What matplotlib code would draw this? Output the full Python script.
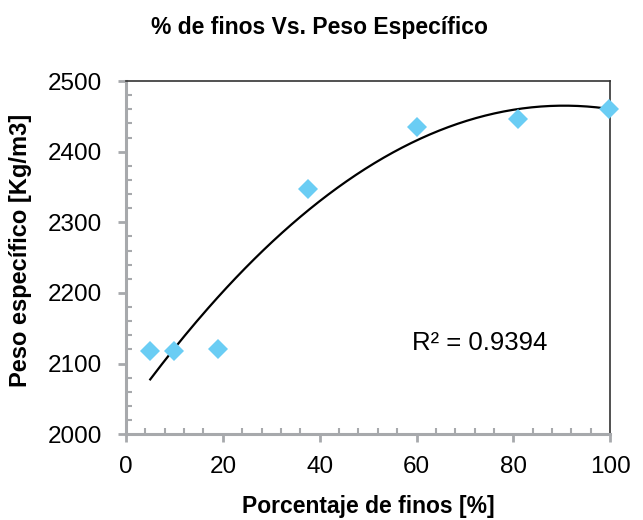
import numpy as np
import matplotlib.pyplot as plt

plt.rcParams['font.family'] = ['Liberation Sans', 'DejaVu Sans']

finos = [5, 10, 19, 37.5, 60, 81, 99.7]
peso = [2118, 2118, 2121, 2347, 2435, 2447, 2461]

coef = np.polyfit(finos, peso, 2)
xs = np.linspace(5, 100, 200)
ys = np.polyval(coef, xs)

fig = plt.figure(figsize=(6.43, 5.2), dpi=100)
ax = fig.add_axes([0.196, 0.165, 0.753, 0.679])

ax.plot(xs, ys, color='black', lw=1.6, zorder=2)
ax.plot(finos, peso, 'D', color='#6ACDF4', markersize=10, markeredgewidth=0, zorder=3, clip_on=False)

ax.set_xlim(0, 100)
ax.set_ylim(2000, 2500)
ax.set_xticks([0, 20, 40, 60, 80, 100])
ax.set_yticks([2000, 2100, 2200, 2300, 2400, 2500])
ax.set_xticks(np.arange(0, 101, 4), minor=True)
ax.set_yticks(np.arange(2000, 2501, 20), minor=True)

for s in ['left', 'bottom']:
    ax.spines[s].set_color('#A7A9AC')
    ax.spines[s].set_linewidth(2.2)
for s in ['top', 'right']:
    ax.spines[s].set_color('#333333')
    ax.spines[s].set_linewidth(1.2)

ax.tick_params(which='major', direction='out', length=6, width=2, color='#A7A9AC', labelsize=17.5)
ax.tick_params(axis='y', which='major', pad=11)
ax.tick_params(axis='x', which='major', pad=10)
ax.tick_params(which='minor', direction='in', length=4, width=1.5, color='#A7A9AC')
ax.tick_params(top=False, right=False, which='both')

ax.set_xlabel('Porcentaje de finos [%]', fontsize=16.5, fontweight='bold')
ax.set_ylabel('Peso específico [Kg/m3]', fontsize=17, fontweight='bold')
ax.xaxis.set_label_coords(0.5, -0.172)
ax.yaxis.set_label_coords(-0.194, 0.52)
fig.text(0.497, 0.948, '% de finos Vs. Peso Específico', ha='center', va='center', fontsize=16.5, fontweight='bold')

ax.text(59, 2129, 'R² = 0.9394', fontsize=18.5, va='center', ha='left')

fig.savefig('out.png', dpi=100)
